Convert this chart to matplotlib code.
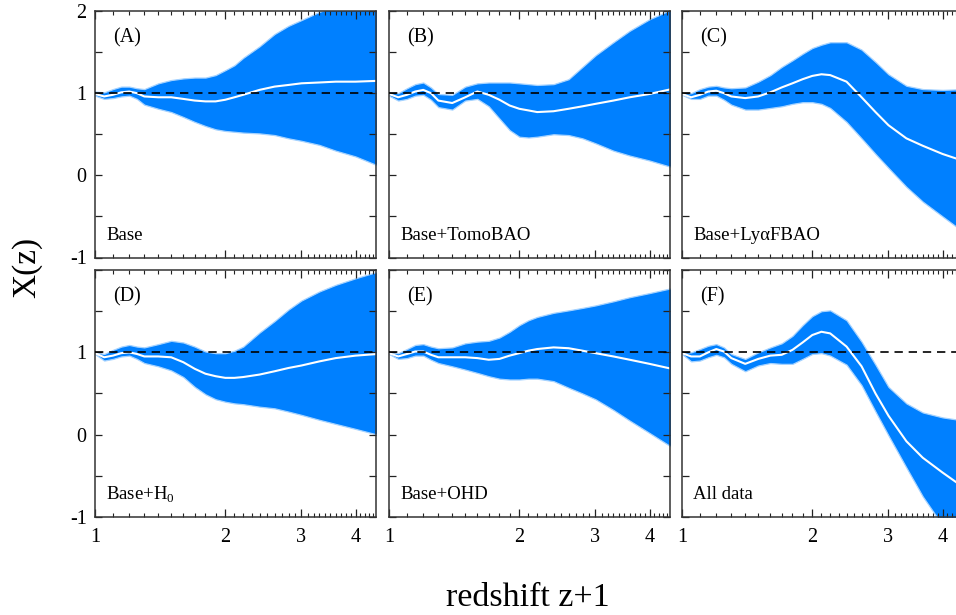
import numpy as np
import matplotlib
matplotlib.use("Agg")
import matplotlib.pyplot as plt
from matplotlib.ticker import FixedLocator, NullFormatter, FixedFormatter

plt.rcParams['font.family'] = ['Liberation Serif', 'DejaVu Serif']
plt.rcParams['mathtext.fontset'] = 'custom'
plt.rcParams['mathtext.rm'] = 'Liberation Serif'
plt.rcParams['axes.unicode_minus'] = False

# ---------------- data ----------------
z1 = [1.0, 1.05, 1.1, 1.15, 1.2, 1.25, 1.3, 1.4, 1.5, 1.6, 1.7, 1.8, 1.9, 2.0,
      2.1, 2.2, 2.4, 2.6, 2.8, 3.0, 3.3, 3.6, 4.0, 4.5]

A_mean = [0.99, 0.96, 0.98, 1.01, 1.02, 1.00, 0.96, 0.95, 0.95, 0.93, 0.91, 0.90, 0.90, 0.92,
          0.95, 0.98, 1.04, 1.08, 1.10, 1.12, 1.13, 1.14, 1.14, 1.15]
A_up = [1.02, 1.01, 1.05, 1.08, 1.08, 1.06, 1.05, 1.12, 1.16, 1.18, 1.19, 1.19, 1.22, 1.28,
        1.34, 1.43, 1.57, 1.72, 1.82, 1.89, 1.99, 2.06, 2.12, 2.20]
A_lo = [0.97, 0.93, 0.94, 0.96, 0.97, 0.93, 0.86, 0.81, 0.77, 0.71, 0.65, 0.60, 0.56, 0.54,
        0.53, 0.52, 0.51, 0.49, 0.45, 0.42, 0.37, 0.30, 0.23, 0.12]

B_mean = [0.99, 0.95, 0.98, 1.02, 1.04, 1.00, 0.91, 0.88, 0.95, 1.02, 0.98, 0.92, 0.85, 0.81,
          0.79, 0.77, 0.78, 0.81, 0.84, 0.87, 0.91, 0.95, 0.99, 1.05]
B_up = [1.01, 1.00, 1.06, 1.11, 1.13, 1.07, 0.99, 0.98, 1.08, 1.12, 1.13, 1.13, 1.13, 1.12,
        1.11, 1.10, 1.11, 1.17, 1.32, 1.46, 1.62, 1.76, 1.90, 2.02]
B_lo = [0.97, 0.91, 0.93, 0.97, 0.98, 0.92, 0.83, 0.80, 0.91, 0.93, 0.84, 0.69, 0.55, 0.47,
        0.46, 0.47, 0.50, 0.49, 0.45, 0.39, 0.30, 0.24, 0.18, 0.10]

C_mean = [0.99, 0.95, 0.98, 1.02, 1.03, 1.00, 0.96, 0.94, 0.96, 1.01, 1.07, 1.12, 1.17, 1.21,
          1.23, 1.22, 1.14, 0.95, 0.77, 0.61, 0.45, 0.36, 0.26, 0.17]
C_up = [1.00, 1.00, 1.05, 1.08, 1.09, 1.07, 1.06, 1.07, 1.14, 1.22, 1.32, 1.40, 1.48, 1.55,
        1.59, 1.62, 1.62, 1.53, 1.38, 1.23, 1.09, 1.05, 1.04, 1.05]
C_lo = [0.98, 0.93, 0.93, 0.97, 0.97, 0.92, 0.86, 0.80, 0.80, 0.82, 0.84, 0.87, 0.89, 0.89,
        0.87, 0.82, 0.65, 0.45, 0.26, 0.09, -0.14, -0.32, -0.50, -0.70]

D_mean = [0.99, 0.94, 0.96, 0.99, 1.00, 0.98, 0.95, 0.95, 0.94, 0.88, 0.80, 0.74, 0.71, 0.69,
          0.69, 0.70, 0.73, 0.77, 0.81, 0.84, 0.89, 0.93, 0.96, 0.98]
D_up = [1.00, 0.98, 1.03, 1.07, 1.09, 1.07, 1.06, 1.10, 1.14, 1.12, 1.07, 1.01, 0.99, 0.99,
        1.02, 1.07, 1.24, 1.38, 1.52, 1.63, 1.74, 1.82, 1.90, 1.98]
D_lo = [0.98, 0.90, 0.92, 0.95, 0.96, 0.92, 0.87, 0.83, 0.78, 0.70, 0.58, 0.49, 0.43, 0.40,
        0.38, 0.37, 0.34, 0.32, 0.28, 0.24, 0.18, 0.13, 0.07, 0.00]

E_mean = [0.99, 0.95, 0.98, 1.01, 1.01, 0.97, 0.94, 0.94, 0.94, 0.93, 0.91, 0.92, 0.96, 0.99,
          1.02, 1.04, 1.06, 1.05, 1.02, 0.99, 0.95, 0.91, 0.86, 0.80]
E_up = [1.00, 0.99, 1.04, 1.09, 1.10, 1.07, 1.05, 1.06, 1.11, 1.13, 1.14, 1.18, 1.25, 1.33,
        1.39, 1.43, 1.48, 1.51, 1.54, 1.57, 1.62, 1.67, 1.72, 1.78]
E_lo = [0.98, 0.92, 0.93, 0.96, 0.96, 0.91, 0.87, 0.83, 0.79, 0.75, 0.71, 0.68, 0.67, 0.67,
        0.68, 0.68, 0.65, 0.57, 0.50, 0.43, 0.30, 0.17, 0.02, -0.15]

F_mean = [0.99, 0.95, 0.95, 1.00, 1.04, 1.01, 0.93, 0.86, 0.92, 0.96, 0.97, 1.03, 1.12, 1.21,
          1.25, 1.23, 1.07, 0.83, 0.50, 0.23, -0.08, -0.28, -0.46, -0.65]
F_up = [1.00, 1.00, 1.04, 1.08, 1.10, 1.06, 0.98, 0.92, 1.00, 1.06, 1.11, 1.20, 1.33, 1.44,
        1.50, 1.51, 1.39, 1.13, 0.85, 0.58, 0.38, 0.27, 0.21, 0.17]
F_lo = [0.98, 0.89, 0.90, 0.94, 0.97, 0.94, 0.86, 0.77, 0.84, 0.87, 0.86, 0.86, 0.92, 0.98,
        0.99, 0.96, 0.85, 0.60, 0.28, -0.01, -0.40, -0.75, -1.10, -1.50]

panel_tags = ['(A)', '(B)', '(C)', '(D)', '(E)', '(F)']
panel_names = ['Base', 'Base+TomoBAO', 'Base+Ly\u03b1FBAO',
               r'Base+H$_\mathregular{0}$', 'Base+OHD', 'All data']
panel_data = [(A_mean, A_up, A_lo), (B_mean, B_up, B_lo), (C_mean, C_up, C_lo),
              (D_mean, D_up, D_lo), (E_mean, E_up, E_lo), (F_mean, F_up, F_lo)]

x_major = [1, 2, 3, 4]
x_major_labels = ['1', '2', '3', '4']
x_minor = [round(1.0 + 0.1 * k, 1) for k in range(1, 35)]
y_ticks = [-1, -0.5, 0, 0.5, 1, 1.5, 2]
y_labels_top = ['-1', '', '0', '', '1', '', '2']
y_labels_bottom = ['-1', '', '0', '', '1', '', '']
reference_level = 1.0
x_range = (1.0, 4.46)
y_range = (-1.0, 2.0)

# ---------------- layout ----------------
W, H = 956, 615
fig = plt.figure(figsize=(W / 100, H / 100), dpi=100)
lefts = [95, 389, 682]
pw = 281
rows = [(11, 257.5), (270, 517)]

band_color = '#0080ff'
edge_color = '#a6d3ff'

for i in range(6):
    r, c = divmod(i, 3)
    top, bot = rows[r]
    ax = fig.add_axes([lefts[c] / W, (H - bot) / H, pw / W, (bot - top) / H])
    m, up, lo = panel_data[i]
    ax.fill_between(z1, lo, up, facecolor=band_color, edgecolor=edge_color,
                    linewidth=0.9, zorder=1)
    ax.plot(z1, m, color='white', lw=1.5, zorder=2)
    ax.axhline(reference_level, color='black', lw=1.2, ls=(0, (5, 3.5)), zorder=3)

    ax.set_xscale('log')
    ax.set_xlim(*x_range)
    ax.set_ylim(*y_range)

    ax.xaxis.set_major_locator(FixedLocator(x_major))
    ax.xaxis.set_minor_locator(FixedLocator(x_minor))
    ax.xaxis.set_minor_formatter(NullFormatter())
    if r == 1:
        ax.xaxis.set_major_formatter(FixedFormatter(x_major_labels))
    else:
        ax.xaxis.set_major_formatter(NullFormatter())

    ax.yaxis.set_major_locator(FixedLocator(y_ticks))
    if c == 0:
        ax.yaxis.set_major_formatter(FixedFormatter(y_labels_top if r == 0 else y_labels_bottom))
    else:
        ax.yaxis.set_major_formatter(NullFormatter())
    ax.yaxis.set_minor_formatter(NullFormatter())
    ax.yaxis.set_minor_locator(FixedLocator([]))

    ax.tick_params(axis='both', which='major', direction='in', top=True, right=True,
                   length=5, width=0.9, color='#222222', labelsize=14.5)
    ax.tick_params(axis='x', which='minor', direction='in', top=True, bottom=True,
                   length=3, width=0.8, color='#222222')
    ax.tick_params(axis='x', which='major', pad=8, length=6)
    ax.tick_params(axis='y', which='major', pad=6)
    for s in ax.spines.values():
        s.set_linewidth(1.1)
        s.set_color('#333333')

    ax.text(0.065, 0.89, panel_tags[i], transform=ax.transAxes, fontsize=14.5,
            ha='left', va='center', zorder=5)
    ax.text(0.04, 0.09, panel_names[i], transform=ax.transAxes, fontsize=13.5,
            ha='left', va='center', zorder=5)

fig.text(27 / W, 1 - 267 / H, 'X(z)', rotation=90, fontsize=24,
         ha='center', va='center')
fig.text(528 / W, 1 - 598 / H, 'redshift z+1', fontsize=24.5,
         ha='center', va='center')

fig.savefig('out.png', dpi=100)
